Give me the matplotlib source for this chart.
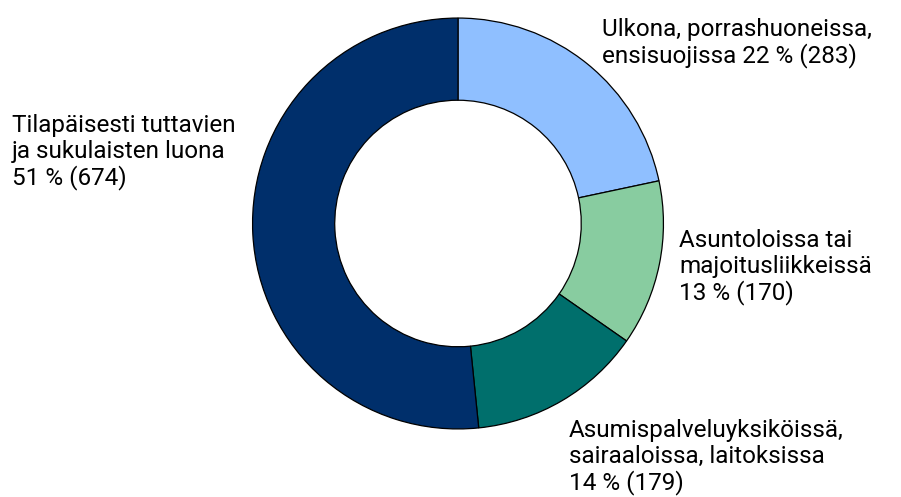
import matplotlib.pyplot as plt

# Data: categories and counts, clockwise from 12 o'clock
labels = [
    "Ulkona, porrashuoneissa,\nensisuojissa 22 % (283)",
    "Asuntoloissa tai\nmajoitusliikkeissä\n13 % (170)",
    "Asumispalveluyksiköissä,\nsairaaloissa, laitoksissa\n14 % (179)",
    "Tilapäisesti tuttavien\nja sukulaisten luona\n51 % (674)",
]
counts = [283, 170, 179, 674]
colors = ["#8fbfff", "#88cca0", "#006f6c", "#002f6b"]

# left edge and first baseline of each label, in pixels from top-left
label_pos = [(602, 36), (679, 247), (569, 437), (12, 132)]
LINE_PX = 26

W, H = 901, 497
CX, CY, R = 458, 223.5, 207.5

plt.rcParams['font.family'] = ['Roboto', 'DejaVu Sans']

fig = plt.figure(figsize=(W / 100, H / 100), dpi=100)
ax = fig.add_axes([(CX - R) / W, (H - CY - R) / H, 2 * R / W, 2 * R / H])
ax.pie(counts, colors=colors, startangle=90, counterclock=False, radius=1,
       wedgeprops=dict(width=0.4, edgecolor='black', linewidth=0.9))
ax.set_xlim(-1.01, 1.01)
ax.set_ylim(-1.01, 1.01)
ax.set_aspect('equal')
ax.axis('off')

for txt, (px, py) in zip(labels, label_pos):
    for i, line in enumerate(txt.split("\n")):
        fig.text(px / W, 1 - (py + i * LINE_PX) / H, line, ha='left',
                 va='baseline', fontsize=17.5, color='black')

fig.savefig("out.png", dpi=100)
